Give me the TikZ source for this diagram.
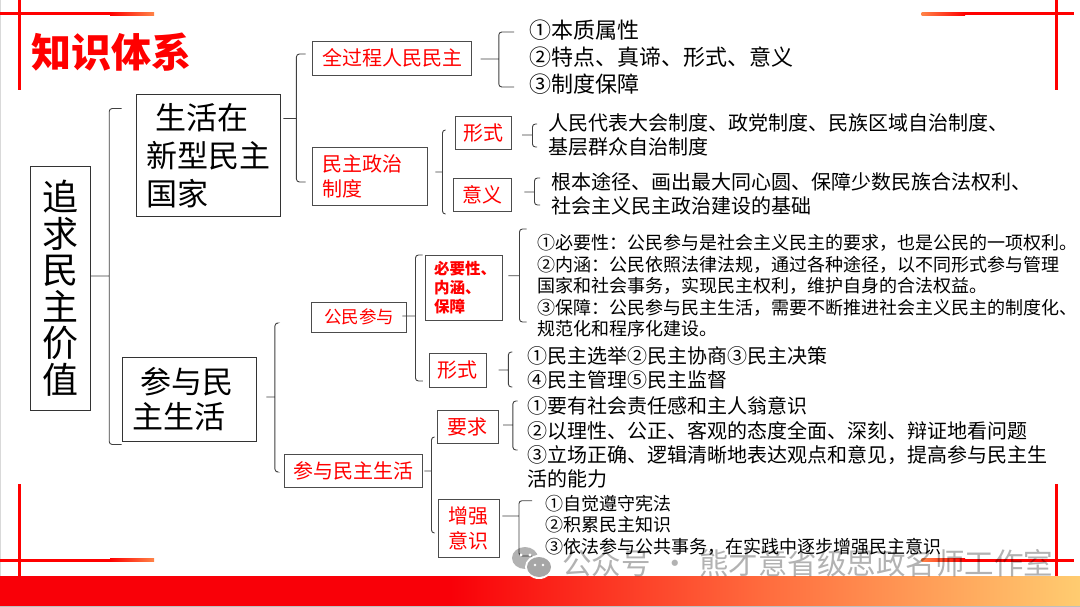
\documentclass[tikz,border=0pt]{standalone}
\usepackage{fontspec}
\setmainfont{Noto Sans CJK SC}
\usetikzlibrary{calc,positioning}
\definecolor{zsred}{HTML}{FF0000}
\definecolor{bandred}{HTML}{F90008}
\definecolor{bandmid}{HTML}{FF6C3E}
\definecolor{bandend}{HTML}{FFCC70}
\definecolor{fadeend}{HTML}{FF8448}
\begin{document}
\begin{tikzpicture}[x=1pt,y=-1pt,
  mainbox/.style={draw=black!80,line width=.8pt,inner sep=0pt,align=left,text=black},
  redbox/.style={draw=black!70,line width=.9pt,inner sep=0pt,align=center,text=zsred,font=\fontsize{20}{24.5}\selectfont},
  body/.style={anchor=west,inner sep=0pt,align=left,text=black},
  brk/.style={draw=black!75,line width=.9pt,rounded corners=3pt}]
  \useasboundingbox (0,0) rectangle (1080,607);
  % frame
  \fill[white] (0,0) rectangle (1080,607);
  \fill[black!15] (0,0) rectangle (1,576);
  \fill[zsred] (0,12.5) rectangle (110,15.5);
  \fill[left color=zsred,right color=fadeend] (110,12.5) rectangle (154,15.5);
  \fill[zsred] (0,558.5) rectangle (110,561.5);
  \fill[left color=zsred,right color=fadeend] (110,558.5) rectangle (154,561.5);
  \fill[zsred] (965,12.5) rectangle (1074,15.5);
  \fill[left color=fadeend,right color=zsred] (921.5,12.5) rectangle (965,15.5);
  \fill[zsred] (965,558.5) rectangle (1074,561.5);
  \fill[left color=fadeend,right color=zsred] (921.5,558.5) rectangle (965,561.5);
  \fill[zsred] (17.5,0) rectangle (20.5,90);
  \fill[zsred] (17.5,484) rectangle (20.5,576);
  \fill[zsred] (1055,0) rectangle (1058,90);
  \fill[zsred] (1055,484) rectangle (1058,576);
  \fill[bandred] (0,576) rectangle (450,606);
  \fill[left color=bandred,right color=bandmid] (450,576) rectangle (765,606);
  \fill[left color=bandmid,right color=bandend] (765,576) rectangle (1080,606);
  \fill[black!25] (0,606) rectangle (1080,607);
  \node[anchor=west,inner sep=0pt,text=zsred,font=\fontsize{40}{44}\selectfont\bfseries] (title) at (31,52) {知识体系};

  % left column
  \node[mainbox,minimum width=60pt,minimum height=243.5pt,align=center,font=\fontsize{36}{36.5}\selectfont] (root) at (60.5,288.25) {追\\求\\民\\主\\价\\值};
  \node[mainbox,minimum width=143.9pt,minimum height=121.5pt,text width=125.3pt,font=\fontsize{31}{38}\selectfont] (gen) at (208.65,155.25) {\hspace*{9pt}生活在\\新型民主\\国家};
  \node[mainbox,minimum width=134.5pt,minimum height=84pt,text width=113.5pt,font=\fontsize{31}{35.5}\selectfont] (part) at (189.25,399) {\hspace*{8pt}参与民\\主生活};

  % red boxes
  \node[redbox,minimum width=159.5pt,minimum height=33.5pt] (qgc) at (392.05,58.25) {全过程人民民主};
  \node[redbox,minimum width=114.7pt,minimum height=57.5pt,text width=94.7pt,align=left] (zd) at (369.65,176.25) {民主政治\\制度};
  \node[redbox,minimum width=56.7pt,minimum height=32.5pt] (xs) at (483.35,132.75) {形式};
  \node[redbox,minimum width=57.5pt,minimum height=32.5pt] (yy) at (482.25,194.75) {意义};
  \node[redbox,minimum width=95.4pt,minimum height=30pt,font=\fontsize{17.5}{20}\selectfont] (gmcy) at (359,317) {公民参与};
  \node[redbox,minimum width=137.6pt,minimum height=33pt] (cyml) at (353.2,470.5) {参与民主生活};
  \node[redbox,minimum width=77.4pt,minimum height=65pt,text width=60pt,align=left,font=\fontsize{15.5}{19}\selectfont\bfseries] (byx) at (464,287.5) {必要性、\\内涵、\\保障};
  \node[redbox,minimum width=56.8pt,minimum height=33.5pt] (xsb) at (457.8,370.25) {形式};
  \node[redbox,minimum width=61pt,minimum height=32.5pt] (yq) at (467.8,426.75) {要求};
  \node[redbox,minimum width=60.9pt,minimum height=57.5pt] (zq) at (468.85,528.25) {增强\\意识};

  % text blocks
  \node[body,font=\fontsize{22}{27}\selectfont] (qgctext) at (529,57) {①本质属性\\②特点、真谛、形式、意义\\③制度保障};
  \node[body,font=\fontsize{20}{24}\selectfont] (xstext) at (548,135) {人民代表大会制度、政党制度、民族区域自治制度、\\基层群众自治制度};
  \node[body,font=\fontsize{20}{24}\selectfont] (yytext) at (551,194) {根本途径、画出最大同心圆、保障少数民族合法权利、\\社会主义民主政治建设的基础};
  \node[body,font=\fontsize{18}{21.5}\selectfont] (byxtext) at (537,286) {①必要性：公民参与是社会主义民主的要求，也是公民的一项权利。\\②内涵：公民依照法律法规，通过各种途径，以不同形式参与管理\\国家和社会事务，实现民主权利，维护自身的合法权益。\\③保障：公民参与民主生活，需要不断推进社会主义民主的制度化、\\规范化和程序化建设。};
  \node[body,font=\fontsize{20}{24}\selectfont] (xsbtext) at (527,368) {①民主选举②民主协商③民主决策\\④民主管理⑤民主监督};
  \node[body,font=\fontsize{20}{24.3}\selectfont] (yqtext) at (527,442.5) {①要有社会责任感和主人翁意识\\②以理性、公正、客观的态度全面、深刻、辩证地看问题\\③立场正确、逻辑清晰地表达观点和意见，提高参与民主生\\活的能力};
  \node[body,font=\fontsize{18}{21.5}\selectfont] (zqtext) at (545,525) {①自觉遵守宪法\\②积累民主知识\\③依法参与公共事务，在实践中逐步增强民主意识};

  % brackets
  \draw[brk] ([yshift=12.25pt]root.east) -- ++(18.3,0) coordinate (jroot)
    ([xshift=-14.7pt,yshift=46.75pt]gen.west) -| (jroot) |- ([yshift=-45.5pt]part.west);
  \draw[brk] ([xshift=2.4pt,yshift=36.75pt]gen.east) -- ++(13,0) coordinate (jgen)
    ([xshift=-6.3pt,yshift=4.25pt]qgc.west) -| (jgen) |- ([xshift=-6.3pt,yshift=-5.75pt]zd.west);
  \draw[brk] ([xshift=8.35pt,yshift=-.75pt]qgc.east) -- ++(18.2,0) coordinate (jqgc)
    ([xshift=-15pt,yshift=25pt]qgctext.west) -| (jqgc) |- ([xshift=-15pt,yshift=-30pt]qgctext.west);
  \draw[brk] ([xshift=8pt,yshift=4.25pt]zd.east) -- ++(7,0) coordinate (jzd)
    ([xshift=-9pt,yshift=2.75pt]xs.west) -| (jzd) |- ([xshift=-7.5pt,yshift=-19.25pt]yy.west);
  \draw[brk] ([xshift=10pt,yshift=-2.25pt]xs.east) -- ++(10.3,0) coordinate (jxs)
    ([xshift=-11pt,yshift=11pt]xstext.west) -| (jxs) |- ([xshift=-11pt,yshift=-12pt]xstext.west);
  \draw[brk] ([xshift=13pt,yshift=2.75pt]yy.east) -- ++(10,0) coordinate (jyy)
    ([xshift=-11pt,yshift=16pt]yytext.west) -| (jyy) |- ([xshift=-11pt,yshift=-11pt]yytext.west);
  \draw[brk] ([xshift=9.5pt,yshift=2pt]part.east) -- ++(8.5,0) coordinate (jpart)
    ([xshift=-34.3pt,yshift=-6pt]gmcy.west) -| (jpart) |- ([xshift=-7.4pt,yshift=-1.5pt]cyml.west);
  \draw[brk] ([xshift=-4.7pt,yshift=1pt]gmcy.east) -- ++(13,0) coordinate (jgmcy)
    ([xshift=-2.3pt,yshift=32.5pt]byx.west) -| (jgmcy) |- ([xshift=-6pt,yshift=-10.75pt]xsb.west);
  \draw[brk] ([xshift=5.3pt,yshift=11.8pt]byx.east) -- ++(11,0) coordinate (jbyx)
    ([xshift=-10.3pt,yshift=57pt]byxtext.west) -| (jbyx) |- ([xshift=-10.3pt,yshift=-36pt]byxtext.west);
  \draw[brk] ([xshift=12pt,yshift=.25pt]xsb.east) -- ++(9.7,0) coordinate (jxsb)
    ([xshift=-14.6pt,yshift=16pt]xsbtext.west) -| (jxsb) |- ([xshift=-14.6pt,yshift=-19pt]xsbtext.west);
  \draw[brk] ([xshift=2pt,yshift=-.5pt]cyml.east) -- ++(7,0) coordinate (jcyml)
    ([xshift=-2.3pt,yshift=-10.25pt]yq.west) -| (jcyml) |- ([xshift=-3.4pt,yshift=-4.75pt]zq.west);
  \draw[brk] ([xshift=4.4pt,yshift=1.75pt]yq.east) -- ++(9.7,0) coordinate (jyq)
    ([xshift=-9.4pt,yshift=41.5pt]yqtext.west) -| (jyq) |- ([xshift=-9.4pt,yshift=-7.5pt]yqtext.west);
  \draw[brk] ([xshift=2.7pt,yshift=12.25pt]zq.east) -- ++(16.5,0) coordinate (jzq)
    ([xshift=-13pt,yshift=24.3pt]zqtext.west) -| (jzq) |- ([xshift=-13pt,yshift=-31pt]zqtext.west);

  % watermark
  \fill[black,opacity=.3] (525,558) ellipse (13 and 11);
  \fill[white] (539,567) ellipse (14 and 12);
  \fill[black,opacity=.35] (539,567) ellipse (12 and 10);
  \fill[white] (521,555) circle (1.6) (530,555) circle (1.6) (535,565) circle (1.4) (543,565) circle (1.4);
  \node[anchor=west,inner sep=0pt,text=black,text opacity=.3,font=\fontsize{29.5}{32}\selectfont] (wm) at (562,563) {公众号\hspace{10pt}·\hspace{9pt}熊才意省级思政名师工作室};
\end{tikzpicture}
\end{document}
